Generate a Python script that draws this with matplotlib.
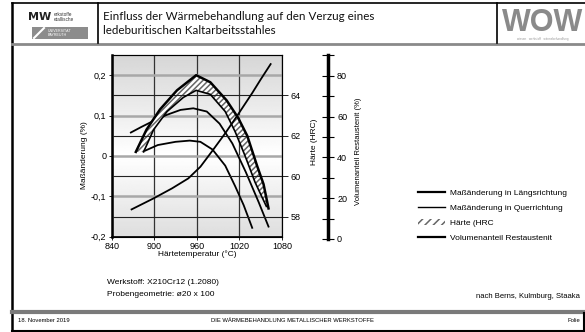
import matplotlib.pyplot as plt
import numpy as np
from matplotlib.lines import Line2D
from matplotlib.patches import Patch, Rectangle

plt.rcParams['font.family'] = ['Liberation Sans', 'DejaVu Sans']
plt.rcParams['hatch.linewidth'] = 1.1

# values
temp_laengs = [867, 882, 899, 918, 937, 955, 974, 992, 1010, 1029, 1047, 1061]
dim_laengs = [0.058, 0.072, 0.087, 0.102, 0.114, 0.118, 0.110, 0.080, 0.031, -0.040, -0.114, -0.175]

temp_quer = [887, 905, 930, 950, 965, 982, 1000, 1014, 1026, 1038]
dim_quer = [0.013, 0.027, 0.035, 0.038, 0.035, 0.016, -0.024, -0.075, -0.122, -0.178]

temp_hrc_upper = [874, 889, 908, 932, 959, 979, 1002, 1018, 1031, 1045, 1054, 1061]
hrc_upper = [61.2, 62.3, 63.3, 64.25, 65.0, 64.65, 63.75, 62.9, 62.0, 60.5, 59.6, 58.4]
temp_hrc_lower = [885, 899, 918, 941, 959, 979, 1000, 1014, 1028, 1042, 1058]
hrc_lower = [61.2, 62.3, 63.2, 63.9, 64.25, 64.05, 63.2, 62.2, 61.0, 59.7, 58.5]

temp_ra = [868, 899, 925, 948, 965, 981, 1000, 1018, 1038, 1050, 1064]
vol_ra = [14.5, 19.9, 24.8, 29.7, 35.4, 42.8, 51.8, 61.0, 71.5, 78.2, 85.7]

xticks = [840, 900, 960, 1020, 1080]
dim_ticks = [-0.2, -0.1, 0, 0.1, 0.2]
dim_labels = ['-0,2', '-0,1', '0', '0,1', '0,2']
hrc_ticks = [58, 60, 62, 64]
vol_ticks = [0, 20, 40, 60, 80]

W, H = 585, 332
fig = plt.figure(figsize=(W / 100, H / 100), dpi=100)

# slide decoration in pixel coords
deco = fig.add_axes([0, 0, 1, 1])
deco.set_xlim(0, W)
deco.set_ylim(H, 0)
deco.axis('off')
deco.plot([12, 12], [3, 331], color='black', lw=1.8)
deco.plot([12, 585], [3, 3], color='black', lw=1.2)
deco.plot([12, 585], [43.5, 43.5], color='#8a8a8a', lw=2)
deco.plot([98, 98], [3, 43], color='black', lw=1.2)
deco.plot([497, 497], [3, 43], color='black', lw=1.2)
deco.plot([12, 585], [312, 312], color='#7a7a7a', lw=3)
deco.plot([12, 585], [330.5, 330.5], color='black', lw=1.5)
deco.plot([584, 584], [313, 331], color='black', lw=1.5)

# left logo
deco.text(28, 17, 'MW', fontsize=8, fontweight='bold', color='#222', va='center',
          family='DejaVu Sans')
deco.text(54, 14, 'erkstoffe', fontsize=3.4, color='#333', va='center')
deco.text(54, 19.5, 'etallische', fontsize=3.4, color='#333', va='center')
deco.add_patch(Rectangle((32, 27), 56, 12, facecolor='#8c8c8c', edgecolor='none'))
deco.plot([34, 44], [38, 28], color='white', lw=1.5)
deco.text(48, 30.5, 'UNIVERSITÄT', fontsize=2.6, color='white', va='center')
deco.text(48, 35.5, 'BAYREUTH', fontsize=2.6, color='white', va='center')

# title
deco.text(103, 17, 'Einfluss der Wärmebehandlung auf den Verzug eines', fontsize=8.4,
          family='Lato', va='center', color='#111')
deco.text(103, 30, 'ledeburitischen Kaltarbeitsstahles', fontsize=8.4,
          family='Lato', va='center', color='#111')

# right logo
deco.text(543, 23, 'WOW', fontsize=22, fontweight='bold', color='#8a8a8a',
          ha='center', va='center')
deco.text(543, 39, 'wissen   werkstoff   wärmebehandlung', fontsize=2.2,
          color='#999', ha='center', va='center')

# notes and footer
deco.text(107, 283, 'Werkstoff: X210Cr12 (1.2080)', fontsize=6, va='center')
deco.text(107, 295, 'Probengeometrie: ø20 x 100', fontsize=6, va='center')
deco.text(580, 296, 'nach Berns, Kulmburg, Staaka', fontsize=5.5, ha='right', va='center')
deco.text(18, 321, '18. November 2019', fontsize=4.2, va='center')
deco.text(292, 321, 'DIE WÄRMEBEHANDLUNG METALLISCHER WERKSTOFFE', fontsize=4.2,
          ha='center', va='center')
deco.text(580, 321, 'Folie', fontsize=4.2, ha='right', va='center')

# main axes
ax = fig.add_axes([111.7 / W, 1 - 236.7 / H, 170.3 / W, 181.7 / H])
ax.set_xlim(840, 1080)
ax.set_ylim(-0.2, 0.25)
grad = np.interp(np.linspace(0, 1, 200), [0, 0.55, 1], [0.84, 1.0, 0.87]).reshape(-1, 1)
ax.imshow(grad, extent=[0, 1, 0, 1], transform=ax.transAxes, aspect='auto',
          cmap='gray', vmin=0, vmax=1, zorder=0)
ax.set_xticks(xticks)
ax.set_yticks(dim_ticks)
ax.set_yticklabels(dim_labels)
ax.tick_params(labelsize=6.5, length=2, width=0.6, pad=2)
ax.grid(axis='x', color='#333333', lw=0.9)
ax.grid(axis='y', color='#a8a8a8', lw=1.8)
ax.spines['left'].set_linewidth(1.8)
ax.spines['bottom'].set_linewidth(1.2)
ax.spines['top'].set_color('#333333')
ax.spines['right'].set_color('#333333')
ax.set_ylabel('Maßänderung (%)', fontsize=6)
ax.yaxis.set_label_coords(-0.14, 0.45)
ax.set_xlabel('Härtetemperatur (°C)', fontsize=6)
ax.xaxis.set_label_coords(0.5, -0.075)

ax.plot(temp_laengs, dim_laengs, color='black', lw=1.3, zorder=3)
ax.plot(temp_quer, dim_quer, color='black', lw=1.3, zorder=3)

# hardness band
ax2 = ax.twinx()
ax2.set_ylim(57, 66)
ax2.set_yticks(hrc_ticks)
ax2.tick_params(labelsize=6.5, length=4, width=0.6, pad=2)
ax2.grid(axis='y', color='#222222', lw=0.8)
ax2.set_ylabel('Härte (HRC)', fontsize=6, rotation=90)
ax2.yaxis.set_label_coords(1.17, 0.52)
band_t = temp_hrc_upper + temp_hrc_lower[::-1]
band_h = hrc_upper + hrc_lower[::-1]
ax2.fill(band_t, band_h, facecolor='white', edgecolor='#666666', hatch='//////', lw=0)
ax2.plot(temp_hrc_upper, hrc_upper, color='black', lw=1.8)
ax2.plot(temp_hrc_lower, hrc_lower, color='black', lw=1.2)

# retained austenite on its own scale
ax4 = ax.twinx()
ax4.set_ylim((239 - 236.7) / 2.041, (239 - 55) / 2.041)
ax4.axis('off')
ax4.plot(temp_ra, vol_ra, color='black', lw=1.3)

# separate axis line for retained austenite
vax = fig.add_axes([328 / W, 1 - 239 / H, 0.0001, (239 - 55.3) / H])
vax.set_ylim(0, 90)
for s in ['left', 'top', 'bottom']:
    vax.spines[s].set_visible(False)
vax.spines['right'].set_linewidth(2.5)
vax.set_xticks([])
vax.yaxis.tick_right()
vax.set_yticks(vol_ticks)
vax.set_yticks([10, 30, 50, 70, 90], minor=True)
vax.tick_params(axis='y', which='both', direction='inout', length=9, width=0.8,
                labelsize=6.5, pad=2)
vax.patch.set_visible(False)
deco.text(358, 151, 'Volumenanteil Restaustenit (%)', fontsize=5.5, rotation=90,
          ha='center', va='center')

handles = [
    Line2D([], [], color='black', lw=1.6),
    Line2D([], [], color='black', lw=1.0),
    Patch(facecolor='white', edgecolor='#666666', hatch='////', lw=0),
    Line2D([], [], color='black', lw=1.6),
]
labels = ['Maßänderung in Längsrichtung', 'Maßänderung in Querrichtung',
          'Härte (HRC', 'Volumenanteil Restaustenit']
fig.legend(handles, labels, loc='upper left', bbox_to_anchor=(414 / W, 1 - 185 / H),
           frameon=False, fontsize=6, handlelength=3.2, handleheight=0.6,
           handletextpad=0.6, labelspacing=0.9, borderpad=0)

fig.savefig('out.png', dpi=100)
